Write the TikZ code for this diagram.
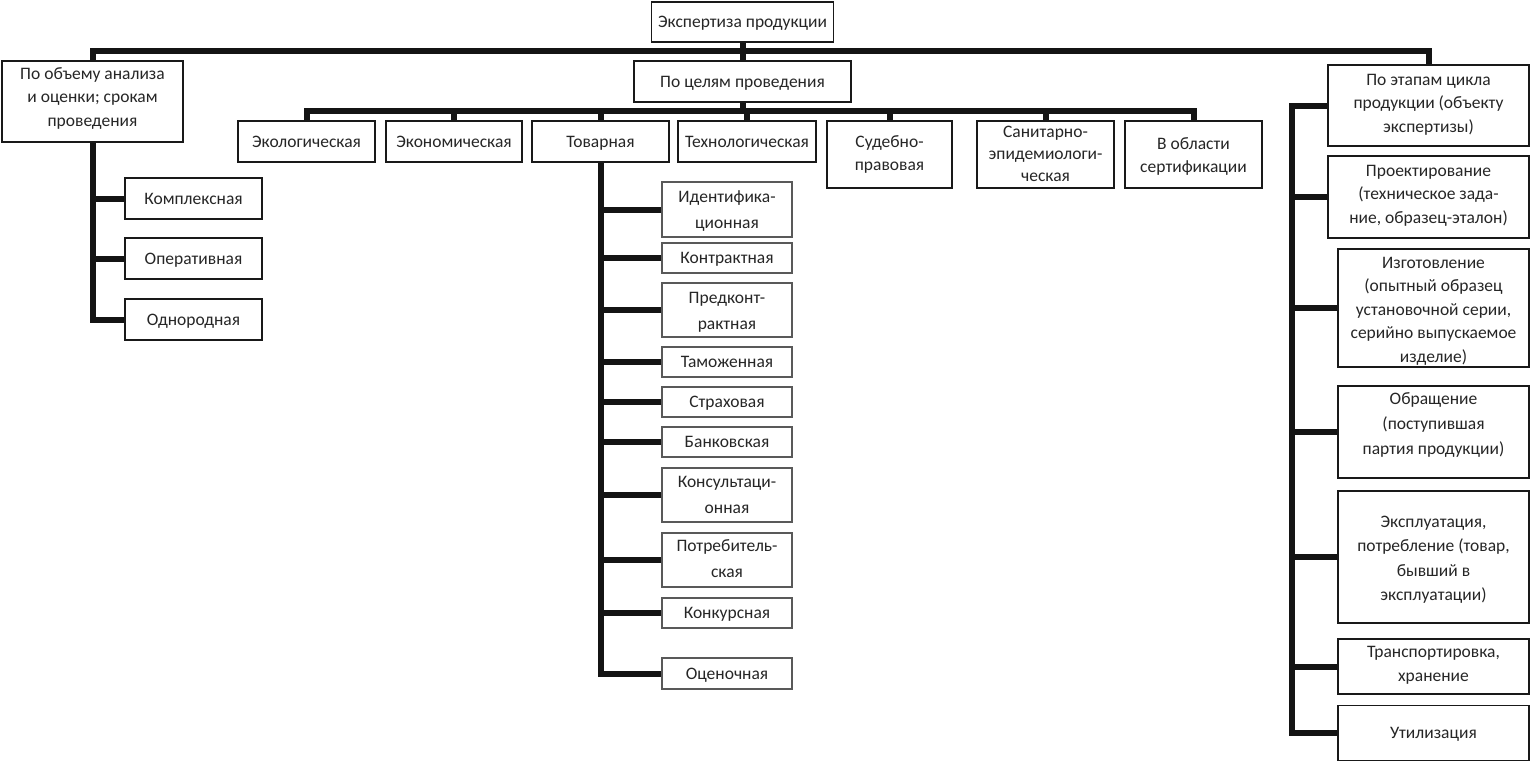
\documentclass[tikz,border=0pt]{standalone}
\usepackage{fontspec}
\setmainfont{Carlito}
\newcommand\btext[2]{\raisebox{#1}[0pt][0pt]{\begin{tabular}{@{}c@{}}#2\end{tabular}}}
\begin{document}
\begin{tikzpicture}[x=1pt,y=-1pt,
  mbox/.style={draw=black!90, line width=1.6pt, fill=white, inner sep=0pt,
    text=black!85, font=\fontsize{17.5}{23.5}\selectfont},
  box/.style={mbox, execute at begin node={\rule{0pt}{18.5pt}}, execute at end node=\strut},
  msub/.style={mbox, draw=black!65, line width=1.2pt},
  subbox/.style={box, draw=black!65, line width=1.2pt},
  conn/.style={line width=6pt, draw=black!92, line join=miter}]
\useasboundingbox (0,0) rectangle (1532,763);
% top
\node[box, minimum width=182, minimum height=40] (top) at (742.5,22) {Экспертиза продукции};
% left branch
\node[mbox, minimum width=181, minimum height=81] (vol) at (92.5,101.5) {\btext{-1pt}{По объему анализа\\и оценки; срокам\\проведения}};
\node[box, minimum width=137, minimum height=41] (kom) at (193.5,198.5) {Комплексная};
\node[box, minimum width=137, minimum height=41] (oper) at (193.5,258.5) {Оперативная};
\node[box, minimum width=137, minimum height=41] (odn) at (193.5,319.5) {Однородная};
% middle branch
\node[box, minimum width=217, minimum height=41] (goal) at (742.5,81.5) {По целям проведения};
\node[box, minimum width=137, minimum height=41] (eco) at (306.5,141.5) {Экологическая};
\node[box, minimum width=136, minimum height=41] (econ) at (454,141.5) {Экономическая};
\node[box, minimum width=137, minimum height=41] (tov) at (600.5,141.5) {Товарная};
\node[box, minimum width=138, minimum height=41] (tech) at (747,141.5) {Технологическая};
\node[mbox, minimum width=125, minimum height=67] (sud) at (889.5,154.5) {\btext{-4.3pt}{Судебно-\\правовая}};
\node[mbox, minimum width=137, minimum height=67, font=\fontsize{17.5}{22}\selectfont] (san) at (1045.5,154.5) {\btext{-4.8pt}{Санитарно-\\эпидемиологи-\\ческая}};
\node[mbox, minimum width=137, minimum height=67] (cert) at (1193.5,154.5) {\btext{-6.3pt}{В области\\сертификации}};
% tovarnaya children
\node[msub, minimum width=130, minimum height=55, font=\fontsize{17.5}{26}\selectfont] (ident) at (727,209.5) {\btext{-5pt}{Идентифика-\\ционная}};
\node[subbox, minimum width=130, minimum height=30] (kontr) at (727,258) {Контрактная};
\node[msub, minimum width=130, minimum height=54, font=\fontsize{17.5}{26}\selectfont] (pred) at (727,310) {\btext{-5.3pt}{Предконт-\\рактная}};
\node[subbox, minimum width=130, minimum height=30] (tam) at (727,362) {Таможенная};
\node[subbox, minimum width=130, minimum height=30] (strah) at (727,402) {Страховая};
\node[subbox, minimum width=130, minimum height=30] (bank) at (727,442) {Банковская};
\node[msub, minimum width=130, minimum height=54, font=\fontsize{17.5}{26}\selectfont] (kons) at (727,495) {\btext{-5pt}{Консультаци-\\онная}};
\node[msub, minimum width=130, minimum height=54, font=\fontsize{17.5}{26}\selectfont] (potr) at (727,560) {\btext{-4pt}{Потребитель-\\ская}};
\node[subbox, minimum width=130, minimum height=30] (konk) at (727,613) {Конкурсная};
\node[subbox, minimum width=130, minimum height=31] (ots) at (727,673.5) {Оценочная};
% right branch
\node[mbox, minimum width=201, minimum height=81] (stage) at (1428.5,105.5) {\btext{-2.8pt}{По этапам цикла\\продукции (объекту\\экспертизы)}};
\node[mbox, minimum width=201, minimum height=82] (proj) at (1428.5,197) {\btext{-2.3pt}{Проектирование\\(техническое зада-\\ние, образец-эталон)}};
\node[mbox, minimum width=191, minimum height=118] (izg) at (1433.5,308) {\btext{-7pt}{Изготовление\\(опытный образец\\установочной серии,\\серийно выпускаемое\\изделие)}};
\node[mbox, minimum width=191, minimum height=92, font=\fontsize{17.5}{25}\selectfont] (obr) at (1433.5,432) {\btext{3pt}{Обращение\\(поступившая\\партия продукции)}};
\node[mbox, minimum width=191, minimum height=132, font=\fontsize{17.5}{24.5}\selectfont] (expl) at (1433.5,557) {\btext{-6.5pt}{Эксплуатация,\\потребление (товар,\\бывший в\\эксплуатации)}};
\node[mbox, minimum width=191, minimum height=55] (trans) at (1433.5,666.5) {\btext{-2.8pt}{Транспортировка,\\хранение}};
\node[box, minimum width=191, minimum height=55] (util) at (1433.5,733) {Утилизация};
% bus coordinates
\coordinate (mbus) at (742.5,51);
\coordinate (gbus) at (742.5,111);
\coordinate (rbus) at (1292,105.5);
% main connectors
\draw[conn] (top.south) -- (goal.north);
\draw[conn] (vol.north) -- (vol.north |- mbus) -- (stage.north |- mbus) -- (stage.north);
% goal connectors
\draw[conn] (goal.south) -- (gbus);
\draw[conn] (eco.north) -- (eco.north |- gbus) -- (cert.north |- gbus) -- (cert.north);
\foreach \n in {econ,tov,tech,sud,san} \draw[conn] (\n.north) -- (\n.north |- gbus);
% left children
\draw[conn] (vol.south) |- (odn.west);
\foreach \n in {kom,oper} \draw[conn] (\n.west) -- (\n.west -| vol.south);
% tovarnaya children
\draw[conn] (tov.south) |- (ots.west);
\foreach \n in {ident,kontr,pred,tam,strah,bank,kons,potr,konk} \draw[conn] (\n.west) -- (\n.west -| tov.south);
% right children
\draw[conn] (stage.west) -- (rbus) |- (util.west);
\foreach \n in {proj,izg,obr,expl,trans} \draw[conn] (\n.west) -- (\n.west -| rbus);
\end{tikzpicture}
\end{document}
